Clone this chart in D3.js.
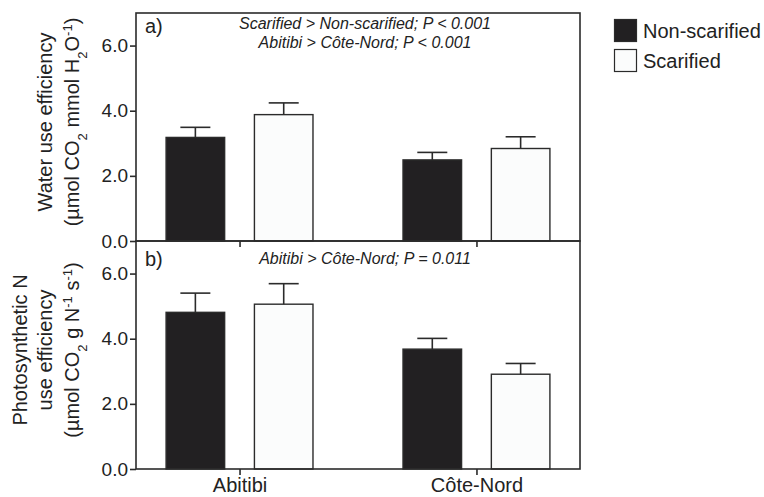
<!DOCTYPE html>
<html>
<head>
<meta charset="utf-8">
<script src="https://cdn.jsdelivr.net/npm/d3@7"></script>
<style>
  body { margin: 0; background: #fff; }
  svg { font-family: "Liberation Sans", Arial, sans-serif; }
</style>
</head>
<body>
<svg id="chart" width="764" height="497"></svg>
<script>
// Site x treatment bar charts, two stacked panels sharing the x axis
const sites = ["Abitibi", "Côte-Nord"];
const treatments = ["Non-scarified", "Scarified"];
const yTicks = [0, 2, 4, 6];

// panel a: water use efficiency
const wueNonScar = [3.18, 2.49];
const wueNonScarSE = [0.31, 0.23];
const wueScar = [3.88, 2.84];
const wueScarSE = [0.36, 0.36];

// panel b: photosynthetic N use efficiency
const pnueNonScar = [4.81, 3.68];
const pnueNonScarSE = [0.59, 0.33];
const pnueScar = [5.06, 2.91];
const pnueScarSE = [0.63, 0.33];

const svg = d3.select("#chart");
const left = 136, right = 580;
const ink = "#2b2b2b";
const fills = { "Non-scarified": "#222022", "Scarified": "#fbfcfc" };

const x0 = d3.scaleBand().domain(sites).range([left, right])
  .paddingInner(0.38).paddingOuter(0.127);
const x1 = d3.scaleBand().domain(treatments).range([0, x0.bandwidth()])
  .paddingInner(0.337);

function rows(means, ses) {
  // means/ses: [nonScar, scar] arrays indexed by site
  const out = [];
  sites.forEach((s, i) => {
    treatments.forEach((t, j) => {
      out.push({ site: s, trt: t, mean: means[j][i], se: ses[j][i] });
    });
  });
  return out;
}

const panels = [
  {
    tag: "a)", top: 13, bottom: 241, tagY: 33, noteY: 29,
    data: rows([wueNonScar, wueScar], [wueNonScarSE, wueScarSE]),
    notes: ["Scarified > Non-scarified; P < 0.001", "Abitibi > Côte-Nord; P < 0.001"],
    title: [
      [["Water use efficiency", 0]],
      [["(µmol CO", 0], ["2", -1], [" mmol H", 0], ["2", -1], ["O", 0], ["-1", 1], [")", 0]],
    ],
    titleX: [52, 79], titleY: 122,
  },
  {
    tag: "b)", top: 241, bottom: 469, tagY: 266, noteY: 264,
    data: rows([pnueNonScar, pnueScar], [pnueNonScarSE, pnueScarSE]),
    notes: ["Abitibi > Côte-Nord; P = 0.011"],
    title: [
      [["Photosynthetic N", 0]],
      [["use efficiency", 0]],
      [["(µmol CO", 0], ["2", -1], [" g N", 0], ["-1", 1], [" s", 0], ["-1", 1], [")", 0]],
    ],
    titleX: [27, 52, 79], titleY: 350,
  },
];

panels.forEach((p, pi) => {
  const y = d3.scaleLinear().domain([0, 7]).range([p.bottom, p.top]);
  const g = svg.append("g");

  // bars
  g.selectAll("rect.bar").data(p.data).enter().append("rect")
    .attr("class", "bar")
    .attr("x", (d) => x0(d.site) + x1(d.trt))
    .attr("width", x1.bandwidth())
    .attr("y", (d) => y(d.mean))
    .attr("height", (d) => y(0) - y(d.mean))
    .attr("fill", (d) => fills[d.trt])
    .attr("stroke", ink)
    .attr("stroke-width", 1.4);

  // error bars (upper only)
  const eb = g.selectAll("g.err").data(p.data).enter().append("g")
    .attr("stroke", ink).attr("stroke-width", 1.6);
  eb.append("line")
    .attr("x1", (d) => x0(d.site) + x1(d.trt) + x1.bandwidth() / 2)
    .attr("x2", (d) => x0(d.site) + x1(d.trt) + x1.bandwidth() / 2)
    .attr("y1", (d) => y(d.mean))
    .attr("y2", (d) => y(d.mean + d.se));
  eb.append("line")
    .attr("x1", (d) => x0(d.site) + x1(d.trt) + x1.bandwidth() / 2 - 15)
    .attr("x2", (d) => x0(d.site) + x1(d.trt) + x1.bandwidth() / 2 + 15)
    .attr("y1", (d) => y(d.mean + d.se))
    .attr("y2", (d) => y(d.mean + d.se));

  // frame
  g.append("rect")
    .attr("x", left).attr("y", p.top)
    .attr("width", right - left).attr("height", p.bottom - p.top)
    .attr("fill", "none").attr("stroke", ink).attr("stroke-width", 1.6);

  // y axis
  const yAxis = g.append("g")
    .attr("transform", `translate(${left},0)`)
    .call(d3.axisLeft(y).tickValues(yTicks).tickFormat(d3.format(".1f"))
      .tickSize(6).tickPadding(2));
  yAxis.select(".domain").remove();
  yAxis.selectAll("line").attr("stroke", ink).attr("stroke-width", 1.6);
  yAxis.selectAll("text").attr("font-size", 19).attr("fill", "#222")
    .attr("font-family", "Liberation Sans, Arial, sans-serif");

  // x axis ticks
  const xAxis = g.append("g")
    .attr("transform", `translate(0,${p.bottom})`)
    .call(d3.axisBottom(d3.scalePoint().domain(sites)
        .range([x0(sites[0]) + x0.bandwidth() / 2, x0(sites[1]) + x0.bandwidth() / 2]))
      .tickSize(6).tickPadding(3));
  xAxis.select(".domain").remove();
  xAxis.selectAll("line").attr("stroke", ink).attr("stroke-width", 1.6);
  xAxis.selectAll("text").attr("font-size", 20).attr("fill", "#222")
    .attr("font-family", "Liberation Sans, Arial, sans-serif")
    .style("display", pi === panels.length - 1 ? null : "none");

  // panel tag
  g.append("text").attr("x", 145).attr("y", p.tagY)
    .attr("font-size", 20).attr("fill", "#222").text(p.tag);

  // statistics notes
  p.notes.forEach((n, i) => {
    g.append("text").attr("x", 365).attr("y", p.noteY + i * 19)
      .attr("text-anchor", "middle").attr("font-size", 16)
      .attr("font-style", "italic").attr("fill", "#222").text(n);
  });

  // rotated y title
  p.title.forEach((line, li) => {
    const t = g.append("text")
      .attr("transform", `translate(${p.titleX[li]},${p.titleY}) rotate(-90)`)
      .attr("text-anchor", "middle").attr("font-size", 20).attr("fill", "#222");
    line.forEach(([s, shift]) => {
      const ts = t.append("tspan").text(s);
      if (shift !== 0) {
        ts.attr("font-size", 13)
          .attr("baseline-shift", shift > 0 ? "super" : "sub");
      }
    });
  });
});

// legend
const legend = svg.append("g").attr("transform", "translate(614,19)");
treatments.forEach((t, i) => {
  const row = legend.append("g").attr("transform", `translate(0,${i * 30})`);
  row.append("rect").attr("x", 0.5).attr("y", 0.5).attr("width", 22).attr("height", 22)
    .attr("fill", fills[t]).attr("stroke", ink).attr("stroke-width", 1.2);
  row.append("text").attr("x", 29).attr("y", 19).attr("font-size", 20)
    .attr("fill", "#222").text(t);
});
</script>
</body>
</html>
